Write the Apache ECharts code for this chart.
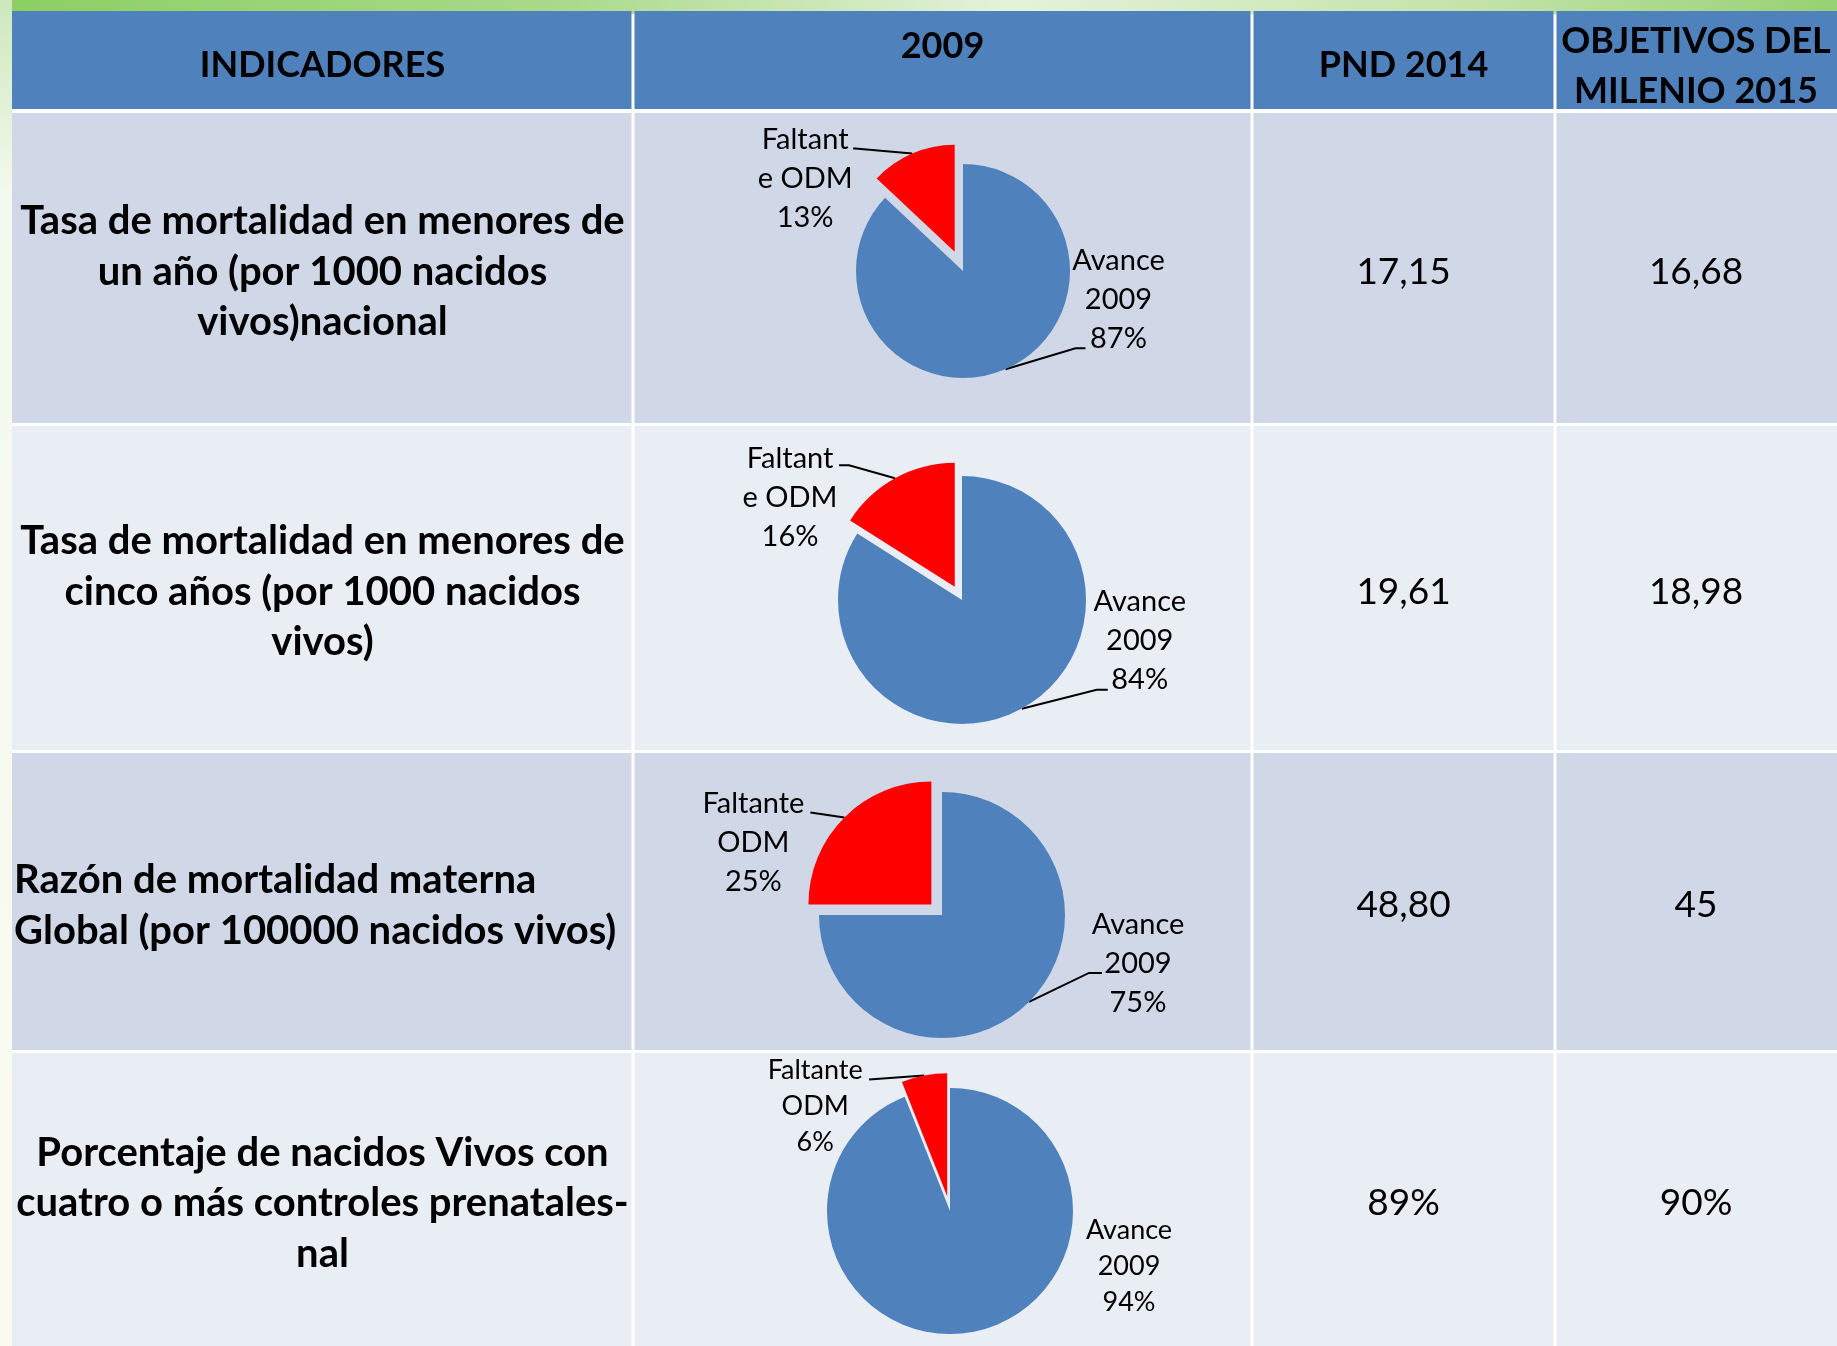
<!DOCTYPE html>
<html>
<head>
<meta charset="utf-8">
<script src="https://cdn.jsdelivr.net/npm/echarts@6/dist/echarts.min.js"></script>
<style>
  html, body { margin: 0; padding: 0; background: #fff; }
  #tabla { width: 1837px; height: 1346px; }
</style>
</head>
<body>
<div id="tabla"></div>
<script>
// textos de la tabla
const encabezados = ['INDICADORES', '2009', 'PND 2014', 'OBJETIVOS DEL\nMILENIO 2015'];
const indicadores = [
  'Tasa de mortalidad en menores de\nun año (por 1000 nacidos\nvivos)nacional',
  'Tasa de mortalidad en menores de\ncinco años (por 1000 nacidos\nvivos)',
  'Razón de mortalidad materna\nGlobal (por 100000 nacidos vivos)',
  'Porcentaje de nacidos Vivos con\ncuatro o más controles prenatales-\nnal'
];
// valores de las tortas 2009
const nombreAvance = 'Avance\n2009';
const nombreFaltante = ['Faltant\ne ODM', 'Faltant\ne ODM', 'Faltante\nODM', 'Faltante\nODM'];
const avance2009 = [87, 84, 75, 94];
const faltanteODM = [13, 16, 25, 6];
// metas
const pnd2014 = ['17,15', '19,61', '48,80', '89%'];
const objetivos2015 = ['16,68', '18,98', '45', '90%'];

// layout de la tabla (px)
const colX = [12, 633, 1252, 1555, 1837];
const filaY = [[11, 109], [113, 423], [426, 750], [753, 1050], [1053, 1346]];
const alineaIndicador = ['center', 'center', 'left', 'center'];
const azul = '#4F81BD';
const rojo = '#FF0000';
const fondoFila = ['#D0D8E8', '#E9EDF4'];

// tortas
const pieCentro = [[963, 271], [962, 600], [942, 915], [950, 1211]];
const pieRadio = [107, 124, 123, 123];
const pieDesplazo = [21, 15, 15, 15];
const tamEtiqueta = [29, 29, 29, 27];
const altoLinea = [39, 39, 39, 36];
// guias de etiquetas, relativas al punto del arco [avance, faltante]
const guias = [
  [{ bend: [70, -21], end: [80, -21], lbl: [113, -70] }, { bend: [-57, -5], end: [-59, -5], lbl: [-107, 25] }],
  [{ bend: [75, -19], end: [86, -19], lbl: [118, -68] }, { bend: [-46, -13], end: [-56, -13], lbl: [-105, 19] }],
  [{ bend: [60, -29], end: [73, -29], lbl: [109, -38] }, { bend: [-34, -5], end: [-34, -5], lbl: [-91, 25] }],
  [{ lbl: [179, 55] }, { bend: [-55, 4], end: [-55, 4], lbl: [-109, 31] }]
];

const fuente = 'Lato, "Open Sans", sans-serif';

// coloca etiqueta y linea guia a partir del punto del arco
function colocarEtiqueta(p, fila, idx, desplazo) {
  const g = guias[fila][idx];
  let a;
  if (g.bend && p.labelLinePoints) {
    a = [p.labelLinePoints[0][0], p.labelLinePoints[0][1]];
    if (desplazo) {
      // la porcion faltante esta separada del centro
      const c = pieCentro[fila];
      const dx = a[0] - c[0], dy = a[1] - c[1];
      const d = Math.sqrt(dx * dx + dy * dy) || 1;
      a[0] += dx / d * desplazo;
      a[1] += dy / d * desplazo;
    }
  } else {
    a = [p.rect.x + p.rect.width / 2, p.rect.y + p.rect.height / 2];
  }
  const out = {
    x: a[0] + g.lbl[0],
    y: a[1] + g.lbl[1],
    align: 'center',
    verticalAlign: 'middle'
  };
  if (g.bend) {
    out.labelLinePoints = [
      [a[0], a[1]],
      [a[0] + g.bend[0], a[1] + g.bend[1]],
      [a[0] + g.end[0], a[1] + g.end[1]]
    ];
  }
  return out;
}

const graficos = [];
// franja verde superior
graficos.push({
  type: 'rect', z: -5,
  shape: { x: 0, y: 0, width: 1837, height: 14 },
  style: {
    fill: new echarts.graphic.LinearGradient(0, 0, 1, 0, [
      { offset: 0, color: '#8BCF62' },
      { offset: 0.3, color: '#A8D98A' },
      { offset: 0.55, color: '#E4F2DA' },
      { offset: 0.8, color: '#C3E3AB' },
      { offset: 1, color: '#97D173' }
    ])
  }
});
graficos.push({
  type: 'rect', z: -5,
  shape: { x: 0, y: 0, width: 12, height: 1346 },
  style: {
    fill: new echarts.graphic.LinearGradient(0, 0, 0, 1, [
      { offset: 0, color: '#CDE8BC' },
      { offset: 0.15, color: '#F4FAF0' },
      { offset: 1, color: '#FBFAF0' }
    ])
  }
});

// celdas
filaY.forEach(function (fy, r) {
  for (let c = 0; c < 4; c++) {
    const x0 = colX[c] + (c ? 1.5 : 0);
    const x1 = colX[c + 1] - (c < 3 ? 1.5 : 0);
    graficos.push({
      type: 'rect', z: -2,
      shape: { x: x0, y: fy[0], width: x1 - x0, height: fy[1] - fy[0] },
      style: { fill: r === 0 ? azul : fondoFila[(r - 1) % 2] }
    });
  }
});

// encabezados
const encabezadoY = [65, 46, 65, 66];
encabezados.forEach(function (t, c) {
  graficos.push({
    type: 'text', z: 1,
    x: (colX[c] + colX[c + 1]) / 2,
    y: encabezadoY[c],
    style: {
      text: t, fill: '#000', align: 'center', verticalAlign: 'middle',
      fontFamily: fuente, fontWeight: 'bold', fontSize: 36, lineHeight: 50
    }
  });
});

// indicadores y metas
indicadores.forEach(function (t, i) {
  const fy = filaY[i + 1];
  const cy = (fy[0] + fy[1]) / 2 + 4;
  const izq = alineaIndicador[i] === 'left';
  graficos.push({
    type: 'text', z: 1,
    x: izq ? colX[0] + 2 : (colX[0] + colX[1]) / 2,
    y: cy,
    style: {
      text: t, fill: '#000', align: alineaIndicador[i], verticalAlign: 'middle',
      fontFamily: fuente, fontWeight: 'bold', fontSize: 40, lineHeight: 50.5
    }
  });
  [pnd2014, objetivos2015].forEach(function (arr, k) {
    graficos.push({
      type: 'text', z: 1,
      x: (colX[k + 2] + colX[k + 3]) / 2,
      y: cy,
      style: {
        text: arr[i], fill: '#000', align: 'center', verticalAlign: 'middle',
        fontFamily: fuente, fontSize: 37
      }
    });
  });
});

function estiloEtiqueta(i) {
  return {
    show: true,
    position: 'outside',
    color: '#000',
    fontFamily: fuente,
    fontSize: tamEtiqueta[i],
    lineHeight: altoLinea[i],
    formatter: function (p) { return p.name + '\n' + Math.round(p.percent) + '%'; }
  };
}
const lineaGuia = { show: true, length: 10, length2: 10, smooth: false, lineStyle: { color: '#000', width: 2 } };
const transparente = 'rgba(0,0,0,0)';

const series = [];
// tortas con la porcion faltante separada
avance2009.forEach(function (v, i) {
  series.push({
    type: 'pie',
    center: pieCentro[i],
    radius: pieRadio[i],
    startAngle: 90,
    clockwise: true,
    selectedMode: 'single',
    selectedOffset: pieDesplazo[i],
    avoidLabelOverlap: false,
    silent: true,
    animation: false,
    emphasis: { disabled: true },
    label: estiloEtiqueta(i),
    labelLine: lineaGuia,
    labelLayout: function (p) { return colocarEtiqueta(p, i, 0, 0); },
    data: [
      { name: nombreAvance, value: v, itemStyle: { color: azul }, labelLine: { show: i !== 3 } },
      {
        name: nombreFaltante[i], value: faltanteODM[i], selected: true,
        itemStyle: { color: rojo }, select: { itemStyle: { color: rojo } },
        label: { show: false }, labelLine: { show: false }
      }
    ]
  });
});
// capa de etiquetas para la porcion faltante
avance2009.forEach(function (v, i) {
  series.push({
    type: 'pie',
    center: pieCentro[i],
    radius: pieRadio[i],
    startAngle: 90,
    clockwise: true,
    avoidLabelOverlap: false,
    silent: true,
    animation: false,
    emphasis: { disabled: true },
    label: estiloEtiqueta(i),
    labelLine: lineaGuia,
    labelLayout: function (p) { return colocarEtiqueta(p, i, 1, pieDesplazo[i]); },
    itemStyle: { color: transparente },
    data: [
      { name: nombreAvance, value: v, label: { show: false }, labelLine: { show: false } },
      { name: nombreFaltante[i], value: faltanteODM[i] }
    ]
  });
});

const chart = echarts.init(document.getElementById('tabla'));
chart.setOption({
  backgroundColor: '#ffffff',
  animation: false,
  graphic: { elements: graficos },
  series: series
});
window.onresize = function () { chart.resize(); };
</script>
</body>
</html>
